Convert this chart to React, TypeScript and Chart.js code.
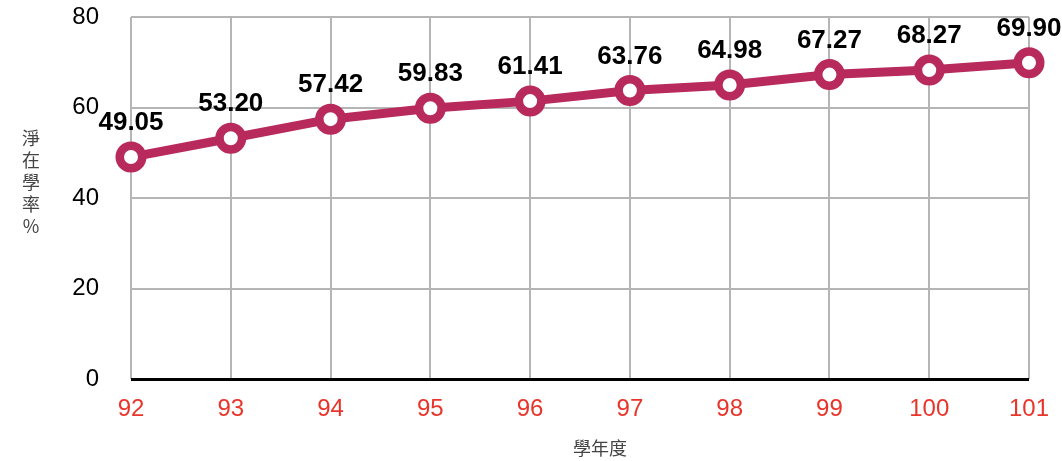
import React, { useEffect, useRef } from "react";
import { Chart, registerables } from "chart.js";

Chart.register(...registerables);

const categories = ["92", "93", "94", "95", "96", "97", "98", "99", "100", "101"];
const rates = [49.05, 53.2, 57.42, 59.83, 61.41, 63.76, 64.98, 67.27, 68.27, 69.9];
const yMin = 0;
const yMax = 80;
const yStep = 20;
const yTitleChars = ["淨", "在", "學", "率", "%"];
const xTitle = "學年度";

const LATIN = '"Liberation Sans", Arial, Helvetica, sans-serif';
const CJK = '"Noto Sans CJK TC", "Noto Sans CJK SC", sans-serif';

export default function App() {
  const ref = useRef<HTMLCanvasElement | null>(null);

  useEffect(() => {
    const canvas = ref.current;
    if (!canvas) return;

    const labelPlugin = {
      id: "valueLabels",
      afterDatasetsDraw(chart: any) {
        const ctx = chart.ctx;
        const meta = chart.getDatasetMeta(0);
        ctx.save();
        ctx.font = `bold 26px ${LATIN}`;
        ctx.fillStyle = "#000";
        ctx.textAlign = "center";
        ctx.textBaseline = "middle";
        meta.data.forEach((pt: any, i: number) => {
          ctx.fillText(rates[i].toFixed(2), pt.x, pt.y - 34);
        });
        ctx.restore();
      },
    };

    const titlePlugin = {
      id: "axisTitles",
      afterDraw(chart: any) {
        const ctx = chart.ctx;
        ctx.save();
        ctx.fillStyle = "#444";
        ctx.textAlign = "center";
        ctx.textBaseline = "middle";
        ctx.font = `18px ${CJK}`;
        yTitleChars.forEach((c, i) => {
          ctx.fillText(c, 31, 138 + i * 22);
        });
        ctx.fillText(xTitle, 600, 448);
        ctx.restore();
      },
    };

    const chart = new Chart(canvas, {
      type: "line",
      data: {
        labels: categories,
        datasets: [
          {
            data: rates,
            borderColor: "#b8295c",
            borderWidth: 9,
            pointRadius: 11.25,
            pointBorderWidth: 8.5,
            pointBackgroundColor: "#ffffff",
            pointBorderColor: "#b8295c",
            tension: 0,
            fill: false,
            clip: false as any,
          },
        ],
      },
      options: {
        responsive: false,
        animation: false,
        layout: { autoPadding: false, padding: { left: 0, right: 33, top: 17, bottom: 0 } },
        plugins: {
          legend: { display: false },
          tooltip: { enabled: false },
        },
        scales: {
          x: {
            offset: false,
            afterFit(scale: any) {
              scale.height = 82;
              scale.paddingLeft = 0;
              scale.paddingRight = 0;
            },
            grid: {
              color: "#b5b5b5",
              lineWidth: 2,
              drawTicks: false,
            },
            border: { display: false },
            ticks: {
              color: "#e8352b",
              font: { family: LATIN, size: 24 },
              padding: 16,
              maxRotation: 0,
            },
          },
          y: {
            min: yMin,
            max: yMax,
            afterFit(scale: any) {
              scale.width = 131;
              scale.paddingTop = 14;
              scale.paddingBottom = 14;
            },
            grid: {
              color: (c: any) => (c.tick && c.tick.value === 0 ? "#000" : "#b5b5b5"),
              lineWidth: (c: any) => (c.tick && c.tick.value === 0 ? 3 : 2),
              drawTicks: false,
            },
            border: { display: false },
            ticks: {
              stepSize: yStep,
              color: "#000",
              font: { family: LATIN, size: 24 },
              padding: 32,
            },
          },
        },
      },
      plugins: [labelPlugin, titlePlugin],
    });

    return () => chart.destroy();
  }, []);

  return (
    <div style={{ position: "absolute", left: 0, top: 0, width: 1062, height: 461, background: "#fff" }}>
      <canvas ref={ref} width={1062} height={461} style={{ width: 1062, height: 461 }} />
    </div>
  );
}
